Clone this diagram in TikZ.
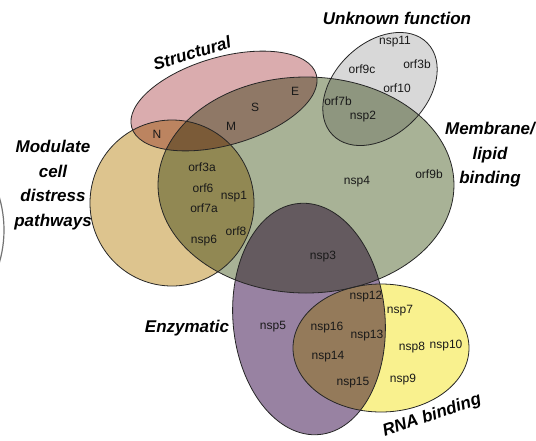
\documentclass[tikz,border=0pt]{standalone}
\usepackage{fontspec}
\setmainfont{Liberation Sans}

\definecolor{structpink}{RGB}{218,172,174}
\definecolor{distresstan}{RGB}{221,196,142}
\definecolor{membgreen}{RGB}{168,178,150}
\definecolor{unknowngrey}{RGB}{216,216,216}
\definecolor{enzympurple}{RGB}{152,130,162}
\definecolor{rnayellow}{RGB}{249,241,142}

\tikzset{
    setline/.style={draw=black!85, line width=0.8pt},
    item/.style={font=\fontsize{12}{14}\selectfont, text=black!90, inner sep=0pt},
    group/.style={font=\fontsize{17}{24.5}\selectfont\bfseries\itshape, align=center, inner sep=0pt}
}

\begin{document}
\begin{tikzpicture}[x=1pt,y=-1pt]
    \useasboundingbox (0,0) rectangle (536,440);
    % the sets
    \begin{scope}[blend group=multiply]
        \fill[membgreen] (306,185) ellipse [x radius=148, y radius=108];
        \fill[distresstan] (172,203) ellipse [x radius=82, y radius=83];
        \fill[structpink, rotate around={16:(224,101)}] (224,101) ellipse [x radius=96, y radius=44];
        \fill[unknowngrey, rotate around={44:(380,89)}] (380,89) ellipse [x radius=66, y radius=46];
        \fill[enzympurple, rotate around={5:(309,319)}] (309,319) ellipse [x radius=76, y radius=116];
        \fill[rnayellow] (381,348) ellipse [x radius=88, y radius=64];
    \end{scope}
    \draw[setline] (306,185) ellipse [x radius=148, y radius=108];
    \draw[setline] (172,203) ellipse [x radius=82, y radius=83];
    \draw[setline, rotate around={16:(224,101)}] (224,101) ellipse [x radius=96, y radius=44];
    \draw[setline, rotate around={44:(380,89)}] (380,89) ellipse [x radius=66, y radius=46];
    \draw[setline, rotate around={5:(309,319)}] (309,319) ellipse [x radius=76, y radius=116];
    \draw[setline] (381,348) ellipse [x radius=88, y radius=64];
    \draw[black!55, line width=1.2pt] (-100,230) ellipse [x radius=104, y radius=110];
    % set names
    \node[group, rotate=17] (structural) at (192,53) {Structural};
    \node[group] (unknown) at (397,18) {Unknown function};
    \node[group] (modulate) at (53,185) {Modulate\\cell\\distress\\pathways};
    \node[group] (membrane) at (490,155) {Membrane/\\lipid\\binding};
    \node[group] (enzymatic) at (187,328) {Enzymatic};
    \node[group, rotate=19] (rnabinding) at (432,416) {RNA binding};
    % proteins
    \node[item] (n) at (157,134) {N};
    \node[item] (m) at (231,126) {M};
    \node[item] (s) at (255,107) {S};
    \node[item] (e) at (295,91) {E};
    \node[item] (orf3a) at (202,167) {orf3a};
    \node[item] (orf6) at (203,188) {orf6};
    \node[item] (nsp1) at (234,197) {nsp1};
    \node[item] (orf7a) at (204,208) {orf7a};
    \node[item] (orf8) at (236,231) {orf8};
    \node[item] (nsp6) at (204,241) {nsp6};
    \node[item] (nsp11) at (395,42) {nsp11};
    \node[item] (orf9c) at (362,69) {orf9c};
    \node[item] (orf3b) at (417,64) {orf3b};
    \node[item] (orf10) at (397,88) {orf10};
    \node[item] (orf7b) at (338,101) {orf7b};
    \node[item] (nsp2) at (363,117) {nsp2};
    \node[item] (nsp4) at (357,182) {nsp4};
    \node[item] (orf9b) at (429,174) {orf9b};
    \node[item] (nsp3) at (323,257) {nsp3};
    \node[item] (nsp5) at (273,327) {nsp5};
    \node[item] (nsp12) at (366,297) {nsp12};
    \node[item] (nsp7) at (400,311) {nsp7};
    \node[item] (nsp16) at (327,328) {nsp16};
    \node[item] (nsp13) at (367,336) {nsp13};
    \node[item] (nsp8) at (412,348) {nsp8};
    \node[item] (nsp10) at (446,346) {nsp10};
    \node[item] (nsp14) at (328,357) {nsp14};
    \node[item] (nsp15) at (353,383) {nsp15};
    \node[item] (nsp9) at (403,380) {nsp9};
\end{tikzpicture}
\end{document}
